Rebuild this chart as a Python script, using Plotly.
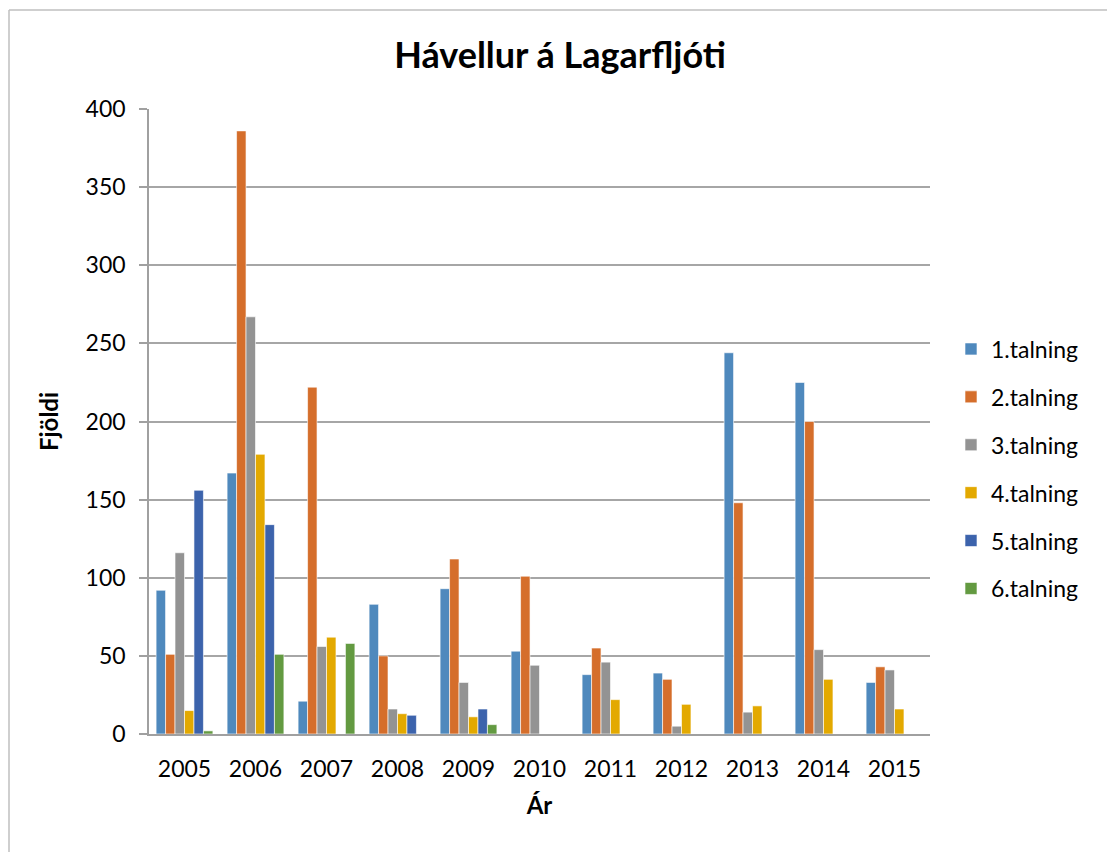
import plotly.graph_objects as go

years = ["2005", "2006", "2007", "2008", "2009", "2010", "2011", "2012", "2013", "2014", "2015"]
series_names = ["1.talning", "2.talning", "3.talning", "4.talning", "5.talning", "6.talning"]
t1 = [92, 167, 21, 83, 93, 53, 38, 39, 244, 225, 33]
t2 = [51, 386, 222, 50, 112, 101, 55, 35, 148, 200, 43]
t3 = [116, 267, 56, 16, 33, 44, 46, 5, 14, 54, 41]
t4 = [15, 179, 62, 13, 11, None, 22, 19, 18, 35, 16]
t5 = [156, 134, None, 12, 16, None, None, None, None, None, None]
t6 = [2, 51, 58, None, 6, None, None, None, None, None, None]
colors = ["#4F89BD", "#D56E2B", "#939393", "#E3A900", "#3C63AC", "#639A41"]

fig = go.Figure()
for i, (name, vals, c) in enumerate(zip(series_names, [t1, t2, t3, t4, t5, t6], colors)):
    fig.add_trace(go.Bar(x=years, y=vals, name=name, legendgroup=f"g{i}",
                         marker=dict(color=c, line=dict(color="rgba(255,255,255,0.6)", width=1))))

font_family = "Lato, 'Noto Sans', sans-serif"
W, H = 1107, 852
L, R, T, B = 149, 930, 109, 734
fig.update_layout(
    width=W, height=H,
    barmode="group", bargap=0.2, bargroupgap=0,
    plot_bgcolor="white", paper_bgcolor="white",
    margin=dict(l=L, r=W - R, t=T, b=H - B, autoexpand=False),
    font=dict(family=font_family, size=23, color="#000000"),
    title=dict(text="<b>Hávellur á Lagarfljóti</b>", x=560 / W, xanchor="center", y=1 - 55 / H, yanchor="middle",
               font=dict(size=36, family=font_family, color="#000000")),
    legend=dict(x=(951 - L) / (R - L), xanchor="left", y=(B - 469) / (B - T), yanchor="middle",
                font=dict(size=23, family=font_family), tracegroupgap=15, itemwidth=30,
                bgcolor="rgba(0,0,0,0)"),
    xaxis=dict(showline=True, linecolor="#A0A0A0", linewidth=1.5, ticks="", tickfont=dict(size=23),
               ticklabelstandoff=14,
               title=dict(text="<b>Ár</b>", font=dict(size=24), standoff=16)),
    yaxis=dict(range=[0, 400], dtick=50, showgrid=True, gridcolor="#A6A6A6", gridwidth=1.5,
               showline=True, linecolor="#A0A0A0", linewidth=1.5, ticks="outside", ticklen=8,
               tickcolor="#A0A0A0", tickwidth=1.5, tickfont=dict(size=23), zeroline=False,
               ticklabelstandoff=9,
               title=dict(text="<b>Fjöldi</b>", font=dict(size=24), standoff=20)),
)
# chart outer border (left and top visible)
x0 = (9 - L) / (R - L)
y0 = (B - 10) / (B - T)
fig.add_shape(type="line", xref="paper", yref="paper", x0=x0, x1=(W + 5 - L) / (R - L), y0=y0, y1=y0,
              line=dict(color="#BFBFBF", width=1.5))
fig.add_shape(type="line", xref="paper", yref="paper", x0=x0, x1=x0, y0=y0, y1=(B - H - 5) / (B - T),
              line=dict(color="#BFBFBF", width=1.5))

fig.write_html("out.html", config={"displayModeBar": False},
               post_script="document.body.style.margin='0';document.body.style.overflow='hidden';")
